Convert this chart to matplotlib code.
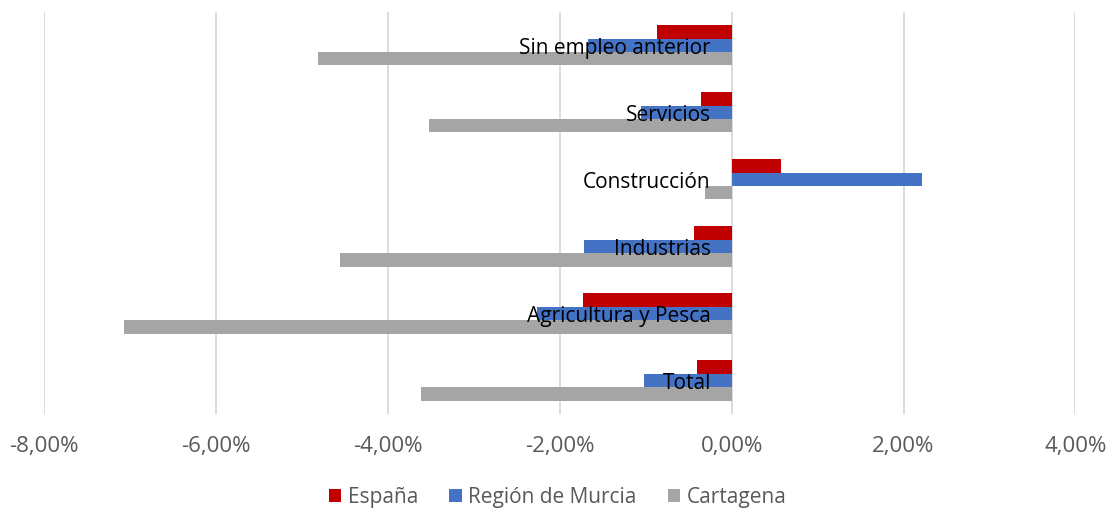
import numpy as np
import matplotlib.pyplot as plt
from matplotlib.ticker import FuncFormatter

plt.rcParams['font.family'] = ['Open Sans', 'DejaVu Sans']

# Categories listed bottom to top
categorias = ["Total", "Agricultura y Pesca", "Industrias", "Construcción", "Servicios", "Sin empleo anterior"]
espana = [-0.40, -1.73, -0.44, 0.58, -0.36, -0.87]
murcia = [-1.02, -2.27, -1.72, 2.21, -1.06, -1.67]
cartagena = [-3.61, -7.07, -4.56, -0.31, -3.52, -4.81]
series = ["España", "Región de Murcia", "Cartagena"]
colores = ["#C00000", "#4472C4", "#A5A5A5"]

fig = plt.figure(figsize=(11.15, 5.13), dpi=100)
ax = fig.add_axes([0.0395, 0.193, 0.925, 0.784])

y = np.arange(len(categorias))
h = 0.2
ax.barh(y + h, espana, height=h, color=colores[0], label=series[0], zorder=2)
ax.barh(y, murcia, height=h, color=colores[1], label=series[1], zorder=2)
ax.barh(y - h, cartagena, height=h, color=colores[2], label=series[2], zorder=2)

# category labels sit just left of the zero line
for yi, cat in zip(y, categorias):
    ax.annotate(cat, xy=(0, yi), xytext=(-15, -2), textcoords="offset points",
                ha="right", va="center", fontsize=15, color="black", zorder=3)

ax.set_xlim(-8, 4)
ax.set_ylim(-0.5, len(categorias) - 0.5)
ax.set_xticks(np.arange(-8, 5, 2))
ax.xaxis.set_major_formatter(FuncFormatter(lambda v, p: f"{v:.2f}%".replace(".", ",")))
ax.set_yticks([])
ax.tick_params(axis="x", length=0, labelsize=16, labelcolor="#595959", pad=16)
ax.grid(axis="x", color="#d9d9d9", linewidth=1.3, zorder=0)
for s in ax.spines.values():
    s.set_visible(False)

fig.legend(loc="center", bbox_to_anchor=(0.5, 0.03), ncol=3, frameon=False,
           fontsize=15, handlelength=0.6, handleheight=0.6, handletextpad=0.3,
           columnspacing=1.5, labelcolor="#595959")

plt.savefig("out.png")
